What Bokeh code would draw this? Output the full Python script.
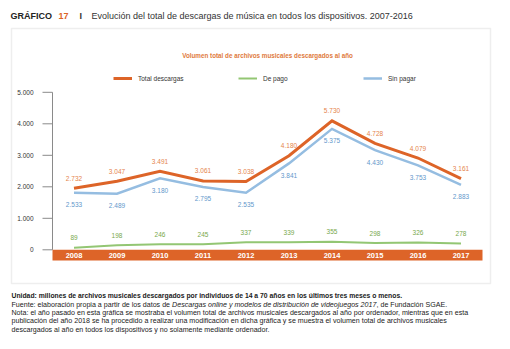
from bokeh.plotting import figure
from bokeh.models import Range1d, Label, BoxAnnotation, Legend, LegendItem
from bokeh.embed import file_html
from bokeh.resources import INLINE
from bokeh.core.properties import value

# ---------------- data ----------------
years = ["2008", "2009", "2010", "2011", "2012", "2013", "2014", "2015", "2016", "2017"]
total_descargas = [2732, 3047, 3491, 3061, 3038, 4180, 5730, 4728, 4079, 3161]
de_pago = [89, 198, 246, 245, 337, 339, 355, 298, 326, 278]
sin_pagar = [2533, 2489, 3180, 2795, 2535, 3841, 5375, 4430, 3753, 2883]
series_names = ["Total descargas", "De pago", "Sin pagar"]
tick_labels = ["0", "1.000", "2.000", "3.000", "4.000", "5.000"]
axis_step = 1400  # data units between printed ticks in the original graphic


def fmt(v):
    return f"{v:,}".replace(",", ".")


# ---------------- layout constants (canvas px) ----------------
W, H = 510, 349
FL, FR = 52, 482            # left/right edge of category band
ZERO_Y = 249.3              # canvas y of value 0
PX_PER_STEP = 31.5          # px between printed ticks
upx = axis_step / PX_PER_STEP
xs = [int(y) for y in years]
CAT = (FR - FL) / len(years)
x_axis = xs[0] - 0.5
x_range = Range1d(x_axis - FL / CAT, xs[-1] + 0.5 + (W - FR) / CAT)
y_range = Range1d(-(H - ZERO_Y) * upx, ZERO_Y * upx)

FONT = "Liberation Sans"
ORANGE = "#dd6428"
BLUE = "#95bde1"
GREEN = "#93c673"
AXIS = "#8a8a8a"

p = figure(width=W, height=H, x_range=x_range, y_range=y_range,
           output_backend="svg", toolbar_location=None,
           x_axis_location=None, y_axis_location=None,
           min_border_left=0, min_border_right=0, min_border_top=0, min_border_bottom=0)
p.grid.visible = False
p.outline_line_color = None
p.background_fill_color = "white"
p.border_fill_color = "white"

# ---- y axis (drawn through the scales) ----
ticks = [i * axis_step for i in range(len(tick_labels))]
p.segment(x0=[x_axis] * len(ticks), x1=[x_axis - 10 / CAT] * len(ticks),
          y0=ticks, y1=ticks, line_color=AXIS, line_width=1)
p.segment(x0=[x_axis], x1=[x_axis], y0=[0], y1=[ticks[-1]], line_color=AXIS, line_width=1)
p.text(x=[x_axis] * len(ticks), y=ticks, text=tick_labels, x_offset=-19,
       text_font=value(FONT), text_font_size="6.5px", text_color="#333333",
       text_align="right", text_baseline="middle")

# ---- orange band with years ----
band_bottom = -(260 - ZERO_Y) * upx
p.quad(left=[xs[0] - 0.5], right=[xs[-1] + 0.5], bottom=[band_bottom], top=[0],
       fill_color=ORANGE, line_color=None)
p.text(x=xs, y=[band_bottom / 2] * len(xs), text=years, text_color="white",
       text_font=value(FONT), text_font_style="bold", text_font_size="7.5px",
       text_align="center", text_baseline="middle")

# ---- series ----
r_tot = p.line(xs, total_descargas, line_width=3, color=ORANGE, line_join="miter")
r_pag = p.line(xs, de_pago, line_width=2, color=GREEN)
r_sin = p.line(xs, sin_pagar, line_width=2.5, color=BLUE, line_join="miter")

lab_kw = dict(text_font=value(FONT), text_font_size="6.5px", text_align="center",
              text_baseline="middle")
p.text(x=xs, y=total_descargas, text=[fmt(v) for v in total_descargas],
       text_color="#e5844c", y_offset=-10, **lab_kw)
p.text(x=xs, y=sin_pagar, text=[fmt(v) for v in sin_pagar],
       text_color="#6397cb", y_offset=12, **lab_kw)
p.text(x=xs, y=de_pago, text=[fmt(v) for v in de_pago],
       text_color="#78a84c", y_offset=-10, **lab_kw)

legend = Legend(items=[LegendItem(label=series_names[0], renderers=[r_tot]),
                       LegendItem(label=series_names[1], renderers=[r_pag]),
                       LegendItem(label=series_names[2], renderers=[r_sin])],
                location=(113, H - 83), orientation="horizontal",
                glyph_width=19, glyph_height=10, label_standoff=6, label_width=100,
                spacing=0, padding=0, margin=0, border_line_alpha=0,
                background_fill_alpha=0, label_text_font=FONT,
                label_text_font_size="6.5px", label_text_color="#333333",
                label_height=10)
p.add_layout(legend)

# ---- text annotations ----
ARIAL_W = {" ": 278, ".": 278, ",": 278, ":": 278, "-": 333, "f": 278, "i": 222, "j": 222,
           "l": 222, "r": 333, "t": 278, "m": 833, "w": 722, "c": 500, "k": 500, "s": 500,
           "v": 500, "x": 500, "y": 500, "z": 500, "í": 222, "I": 278, "F": 611, "S": 667,
           "G": 778, "A": 667, "E": 667, "D": 722, "M": 833, "O": 778}


def text_w(s, size):
    return sum(ARIAL_W.get(ch, 556) for ch in s) / 1000 * size


def lab(text, cx, cy, size, color="#222222", style="normal", align="left"):
    p.add_layout(Label(x=cx, y=H - cy, x_units="screen", y_units="screen",
                       text=text, text_font=FONT, text_font_size=f"{size}px",
                       text_color=color, text_font_style=style, text_align=align,
                       text_baseline="middle"))


p.add_layout(BoxAnnotation(left=11, right=490, top=H - 28, bottom=H - 283,
                           left_units="screen", right_units="screen",
                           top_units="screen", bottom_units="screen",
                           fill_alpha=0, line_color="#c6c6c6", line_width=1.5))

lab("GRÁFICO", 10, 15, 9, "#222222", "bold")
lab("17", 58, 15, 9, ORANGE, "bold")
lab("I", 79, 15, 9, "#333333", "bold")
lab("Evolución del total de descargas de música en todos los dispositivos. 2007-2016",
    91, 15, 9, "#333333")
lab("Volumen total de archivos musicales descargados al año", 267, 55, 6.3,
    "#e07a3c", "bold", "center")

NS = 7.1
lab("Unidad: millones de archivos musicales descargados por individuos de 14 a 70 años en los últimos tres meses o menos.",
    11, 295, 6.8, "#1a1a1a", "bold")
parts = [("Fuente: elaboración propia a partir de los datos de ", "normal"),
         ("Descargas online y modelos de distribución de videojuegos 2017", "italic"),
         (", de Fundación SGAE.", "normal")]
cx = 11
for txt, st in parts:
    lab(txt, cx, 304, NS, "#222222", st)
    cx += text_w(txt, NS)
lab("Nota: el año pasado en esta gráfica se mostraba el volumen total de archivos musicales descargados al año por ordenador, mientras que en esta",
    11, 312.7, NS)
lab("publicación del año 2018 se ha procedido a realizar una modificación en dicha gráfica y se muestra el volumen total de archivos musicales",
    11, 320.8, NS)
lab("descargados al año en todos los dispositivos y no solamente mediante ordenador.",
    11, 329, NS)

open("out.html", "w").write(file_html(p, INLINE))
